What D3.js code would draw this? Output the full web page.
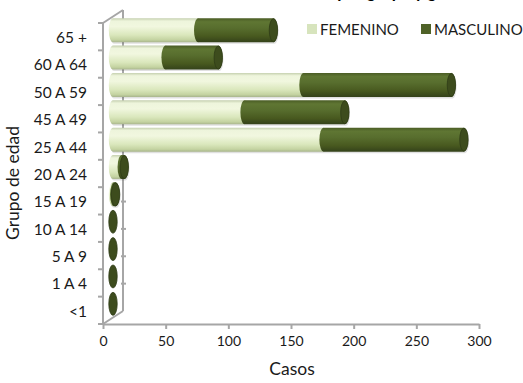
<!DOCTYPE html>
<html>
<head>
<meta charset="utf-8">
<script src="https://cdn.jsdelivr.net/npm/d3@7/dist/d3.min.js"></script>
<style>
  html, body { margin: 0; padding: 0; background: #fff; }
  svg { display: block; font-family: Lato, "Liberation Sans", Arial, sans-serif; }
</style>
</head>
<body>
<svg id="chart" width="523" height="383"></svg>
<script>
// Age groups, top to bottom
const categories = ["65 +", "60 A 64", "50 A 59", "45 A 49", "25 A 44", "20 A 24",
                    "15 A 19", "10 A 14", "5 A 9", "1 A 4", "<1"];
const femenino  = [68, 42, 152, 105, 168, 7, 1, 0, 0, 0, 0];
const masculino = [60, 42, 118,  80, 112, 2, 1, 0, 0, 0, 0];
const seriesNames = ["FEMENINO", "MASCULINO"];
const xTicks = [0, 50, 100, 150, 200, 250, 300];

const svg = d3.select("#chart");
const defs = svg.append("defs");

// Cylinder shading
function cylGrad(id, stops) {
  const g = defs.append("linearGradient").attr("id", id)
    .attr("x1", 0).attr("y1", 0).attr("x2", 0).attr("y2", 1);
  stops.forEach(s => g.append("stop").attr("offset", s[0]).attr("stop-color", s[1]));
}
cylGrad("gF", [[0, "#c4cfae"], [0.12, "#eef5dc"], [0.35, "#f1f7df"], [0.7, "#dae7bc"], [0.9, "#c4d3a1"], [1, "#a9b68d"]]);
cylGrad("gM", [[0, "#4a5c25"], [0.15, "#5f7633"], [0.4, "#586e2e"], [0.75, "#48591f"], [1, "#34421a"]]);
const fills = ["url(#gF)", "url(#gM)"];
const legendColors = ["#d7e4bd", "#4f6228"];

const x = d3.scaleLinear().domain([0, 300]).range([103, 479]);
const y = d3.scaleBand().domain(categories).range([23, 324]);

// depth of the 3D frame
const depthX = 20, depthY = -13;
const barDX = depthX / 2, barDY = depthY / 2;
const barH = 24, rx = 4.2;

const grey = "#a6a6a6";
const ink = "#1a1a1a";

// Title (runs off the top edge)
svg.append("text")
  .attr("x", 480).attr("y", -2)
  .attr("text-anchor", "end")
  .attr("font-size", 17).attr("font-weight", "bold")
  .text("Casos por grupo y género");

// Side wall and floor edges
const frame = svg.append("g").attr("stroke", grey).attr("stroke-width", 2).attr("fill", "none");
const top0 = y.range()[0], bot0 = y.range()[1], x0 = x(0);
frame.append("line").attr("x1", x0 + depthX).attr("y1", top0 + depthY).attr("x2", x0 + depthX).attr("y2", bot0 + depthY);
frame.append("line").attr("x1", x0).attr("y1", top0).attr("x2", x0 + depthX).attr("y2", top0 + depthY);
frame.append("line").attr("x1", x0).attr("y1", bot0).attr("x2", x0 + depthX).attr("y2", bot0 + depthY);

// tick stubs on the back edge
const bounds = categories.map(c => y(c)).concat([bot0]);
frame.selectAll("line.back").data(bounds.slice(1, -1)).join("line")
  .attr("x1", x0 + depthX - 2).attr("x2", x0 + depthX + 3)
  .attr("y1", d => d + depthY).attr("y2", d => d + depthY);

// Y axis
const yAxis = svg.append("g").attr("transform", `translate(${x0},0)`);
yAxis.append("line").attr("x1", 0).attr("x2", 0).attr("y1", top0).attr("y2", bot0)
  .attr("stroke", grey).attr("stroke-width", 2);
yAxis.selectAll("line.tk").data(bounds).join("line").attr("class", "tk")
  .attr("x1", -5).attr("x2", 0).attr("y1", d => d).attr("y2", d => d)
  .attr("stroke", grey).attr("stroke-width", 2);
yAxis.selectAll("text").data(categories).join("text")
  .attr("x", -16).attr("y", d => y(d) + y.bandwidth() / 2 + 1)
  .attr("dy", "0.35em").attr("text-anchor", "end")
  .attr("font-size", 15.5).attr("fill", ink)
  .text(d => d);

// X axis
const xAxis = svg.append("g").attr("transform", `translate(0,${bot0})`)
  .call(d3.axisBottom(x).tickValues(xTicks).tickSize(5).tickPadding(7).tickSizeOuter(0));
xAxis.select(".domain").attr("stroke", grey).attr("stroke-width", 2);
xAxis.selectAll(".tick line").attr("stroke", grey).attr("stroke-width", 2);
xAxis.selectAll(".tick text").attr("font-size", 14).attr("fill", ink)
  .attr("font-family", "Lato, Liberation Sans, Arial, sans-serif");

// Axis titles
svg.append("text").attr("x", 292).attr("y", 375).attr("text-anchor", "middle")
  .attr("font-size", 17.5).attr("fill", ink).text("Casos");
svg.append("text").attr("transform", "translate(19,183) rotate(-90)")
  .attr("text-anchor", "middle").attr("font-size", 17.5).attr("fill", ink)
  .text("Grupo de edad");

// Cylinders
const rows = categories.map((c, i) => ({ cat: c, vals: [femenino[i], masculino[i]] }));
const bars = svg.append("g");

function segPath(xa, xb, cy) {
  const t = cy - barH / 2, b = cy + barH / 2;
  return `M${xa},${t} L${xb},${t} A${rx},${barH / 2} 0 0 1 ${xb},${b} L${xa},${b} A${rx},${barH / 2} 0 0 1 ${xa},${t} Z`;
}

rows.forEach(r => {
  const cy = y(r.cat) + y.bandwidth() / 2 + barDY;
  let acc = 0;
  // soft shadow under the bar
  const total = r.vals[0] + r.vals[1];
  if (total > 0) {
    bars.append("path")
      .attr("d", segPath(x(0) + barDX + 1, x(total) + barDX + 1, cy + 1.5))
      .attr("fill", "#000").attr("opacity", 0.12);
  }
  r.vals.forEach((v, si) => {
    const xa = x(acc) + barDX, xb = x(acc + v) + barDX;
    if (v > 0) {
      bars.append("path").attr("d", segPath(xa, xb, cy)).attr("fill", fills[si]);
    }
    acc += v;
  });
  // end face of the stack
  const xe = x(acc) + barDX;
  bars.append("ellipse").attr("cx", xe).attr("cy", cy)
    .attr("rx", rx).attr("ry", barH / 2 - 0.5)
    .attr("fill", "#3d4c1d").attr("stroke", "#2f3b16").attr("stroke-width", 0.8);
});

// Legend
const legend = svg.append("g");
const legX = [307, 421];
seriesNames.forEach((n, i) => {
  legend.append("rect").attr("x", legX[i]).attr("y", 24).attr("width", 10).attr("height", 10)
    .attr("fill", legendColors[i]);
  legend.append("text").attr("x", legX[i] + 13).attr("y", 34.5)
    .attr("font-size", 15).attr("fill", ink).text(n);
});
</script>
</body>
</html>
